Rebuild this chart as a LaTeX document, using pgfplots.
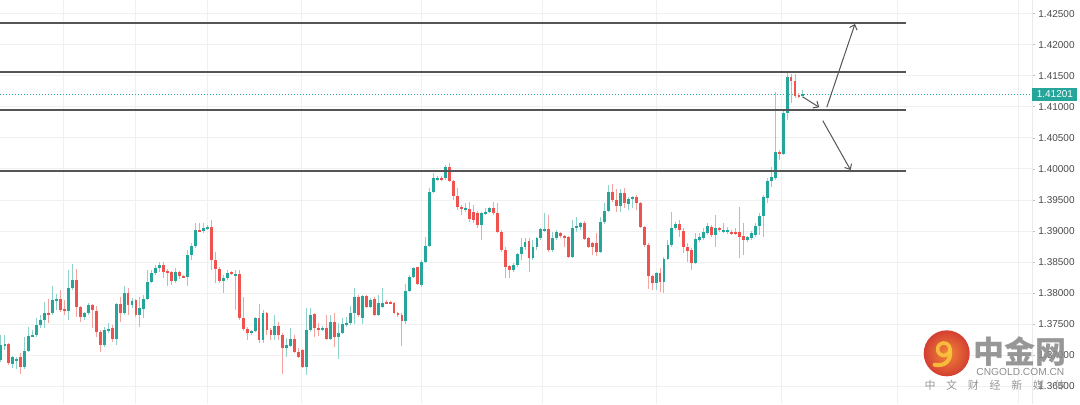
\documentclass[border=0pt]{standalone}
\usepackage{pgfplots}
\pgfplotsset{compat=1.18}
\usepackage{pgfplotstable}
\usepackage{fontspec}
\setmainfont{Liberation Sans}
\newfontfamily\cjk{Noto Sans CJK SC}
\usetikzlibrary{arrows.meta}
\definecolor{cUp}{HTML}{26A69A}
\definecolor{cDn}{HTML}{EF5350}
\definecolor{wUp}{HTML}{8ED2CA}
\definecolor{wDn}{HTML}{F5A3A1}
\definecolor{lineG}{HTML}{555555}
\definecolor{txtG}{HTML}{4A4A4A}
\definecolor{logoO}{HTML}{F07A22}
\definecolor{logoR}{HTML}{CF2A1C}
\definecolor{logoY}{HTML}{F9C53C}

\pgfplotstableread{
i o h l c
0 1.36924 1.37326 1.36892 1.37165
1 1.37149 1.37326 1.37085 1.37182
3 1.36860 1.36988 1.36795 1.36972
4 1.36924 1.36972 1.36779 1.36940
6 1.36811 1.37294 1.36779 1.37069
7 1.37069 1.37455 1.37053 1.37310
8 1.37310 1.37407 1.37294 1.37326
9 1.37326 1.37600 1.37294 1.37487
10 1.37487 1.37648 1.37439 1.37568
11 1.37568 1.37858 1.37439 1.37681
13 1.37681 1.38115 1.37648 1.37890
14 1.37890 1.37987 1.37729 1.37906
17 1.37713 1.38373 1.37568 1.38083
18 1.38083 1.38470 1.38051 1.38212
21 1.37616 1.37697 1.37568 1.37681
22 1.37681 1.37842 1.37648 1.37809
26 1.37165 1.37455 1.37133 1.37407
27 1.37407 1.37520 1.37359 1.37423
29 1.37262 1.37842 1.37165 1.37826
31 1.37681 1.38115 1.37648 1.38003
33 1.37809 1.37922 1.37761 1.37874
35 1.37648 1.37938 1.37455 1.37761
36 1.37745 1.37971 1.37600 1.37906
37 1.37906 1.38373 1.37890 1.38180
38 1.38180 1.38373 1.38164 1.38325
39 1.38325 1.38453 1.38292 1.38405
40 1.38405 1.38502 1.38341 1.38453
44 1.38196 1.38405 1.38164 1.38341
47 1.38260 1.38695 1.38115 1.38615
48 1.38615 1.38808 1.38534 1.38760
49 1.38760 1.39130 1.38727 1.39017
51 1.39001 1.39130 1.38969 1.39049
52 1.39033 1.39098 1.39017 1.39065
56 1.38196 1.38292 1.38003 1.38244
57 1.38244 1.38373 1.38212 1.38325
59 1.38292 1.38373 1.37729 1.38309
63 1.37359 1.37407 1.37326 1.37391
64 1.37391 1.37610 1.37375 1.37600
66 1.37246 1.37729 1.37198 1.37681
69 1.37326 1.37648 1.37246 1.37471
72 1.37117 1.37278 1.36972 1.37165
73 1.37149 1.37439 1.37133 1.37262
77 1.36811 1.37761 1.36683 1.37407
78 1.37407 1.37761 1.37375 1.37648
81 1.37423 1.37471 1.37391 1.37439
83 1.37262 1.37648 1.37246 1.37536
85 1.37294 1.37520 1.36940 1.37359
86 1.37359 1.37600 1.37340 1.37503
87 1.37503 1.37616 1.37455 1.37520
88 1.37520 1.37793 1.37490 1.37681
89 1.37681 1.38083 1.37503 1.37938
91 1.37600 1.37971 1.37505 1.37954
93 1.37777 1.37922 1.37761 1.37890
95 1.37648 1.37971 1.37635 1.37842
96 1.37777 1.38083 1.37761 1.37842
102 1.37552 1.38148 1.37503 1.38035
103 1.38035 1.38292 1.38019 1.38260
104 1.38260 1.38421 1.38244 1.38405
106 1.38131 1.38534 1.38099 1.38502
107 1.38502 1.38904 1.38486 1.38760
108 1.38760 1.39693 1.38743 1.39629
109 1.39629 1.39935 1.39613 1.39854
110 1.39838 1.39886 1.39806 1.39854
112 1.39854 1.40064 1.39822 1.40031
117 1.39355 1.39452 1.39307 1.39371
121 1.39098 1.39307 1.38856 1.39291
122 1.39291 1.39371 1.39258 1.39307
123 1.39307 1.39387 1.39291 1.39371
129 1.38373 1.38486 1.38341 1.38453
130 1.38453 1.38647 1.38421 1.38631
131 1.38631 1.38888 1.38534 1.38743
132 1.38743 1.38888 1.38695 1.38824
134 1.38566 1.38856 1.38534 1.38743
135 1.38743 1.38904 1.38695 1.38888
136 1.38888 1.39049 1.38856 1.39033
137 1.39017 1.39291 1.38985 1.39033
139 1.38695 1.38985 1.38663 1.38888
140 1.38888 1.39017 1.38856 1.38985
144 1.38582 1.39178 1.38566 1.39049
145 1.39049 1.39226 1.38985 1.39081
146 1.39065 1.39146 1.39017 1.39130
151 1.38663 1.39226 1.38647 1.39146
152 1.39146 1.39452 1.39114 1.39323
153 1.39323 1.39742 1.39307 1.39629
156 1.39403 1.39677 1.39307 1.39613
158 1.39436 1.39548 1.39339 1.39516
159 1.39516 1.39564 1.39371 1.39548
165 1.38164 1.38341 1.38051 1.38325
167 1.38180 1.38582 1.38003 1.38550
168 1.38550 1.38856 1.38534 1.38776
169 1.38776 1.39307 1.38743 1.39049
170 1.39049 1.39146 1.39017 1.39114
175 1.38486 1.38969 1.38470 1.38872
176 1.38856 1.38969 1.38824 1.38904
177 1.38888 1.39049 1.38856 1.38985
178 1.38969 1.39130 1.38936 1.39081
180 1.38936 1.39258 1.38743 1.39049
182 1.39001 1.39130 1.38969 1.39017
183 1.38985 1.39065 1.38953 1.39017
188 1.38856 1.38920 1.38824 1.38904
189 1.38888 1.39001 1.38856 1.38969
190 1.38936 1.39130 1.38904 1.39081
191 1.39081 1.39291 1.38936 1.39242
192 1.39242 1.39580 1.38904 1.39548
193 1.39532 1.39854 1.39452 1.39806
194 1.39806 1.40031 1.39709 1.39870
195 1.39854 1.41239 1.39822 1.40273
197 1.40241 1.40965 1.40225 1.40901
198 1.40901 1.41561 1.40788 1.41480
202 1.41174 1.41271 1.41142 1.41201
}\tabUp

\pgfplotstableread{
i o h l c
2 1.37182 1.37198 1.36843 1.36876
5 1.36972 1.37037 1.36699 1.36811
12 1.37681 1.37906 1.37520 1.37665
15 1.37906 1.38051 1.37697 1.37729
16 1.37745 1.37890 1.37648 1.37713
19 1.38212 1.38389 1.37616 1.37777
20 1.37777 1.37790 1.37536 1.37616
23 1.37809 1.37826 1.37439 1.37729
24 1.37713 1.37793 1.37294 1.37375
25 1.37375 1.37407 1.37053 1.37165
28 1.37439 1.37487 1.37214 1.37262
30 1.37826 1.37938 1.37536 1.37681
32 1.38003 1.38083 1.37648 1.37809
34 1.37890 1.37900 1.37616 1.37648
41 1.38453 1.38502 1.38244 1.38341
42 1.38357 1.38389 1.38115 1.38325
43 1.38341 1.38350 1.38131 1.38196
45 1.38341 1.38357 1.38228 1.38276
46 1.38276 1.38292 1.38244 1.38260
50 1.39017 1.39130 1.38985 1.39001
53 1.39065 1.39178 1.38373 1.38534
54 1.38534 1.38663 1.38164 1.38389
55 1.38389 1.38421 1.38164 1.38196
58 1.38341 1.38357 1.38292 1.38309
60 1.38309 1.38373 1.37568 1.37600
61 1.37600 1.37938 1.37391 1.37423
62 1.37423 1.37455 1.37246 1.37359
65 1.37600 1.37826 1.37198 1.37246
67 1.37681 1.37697 1.37326 1.37407
68 1.37407 1.37439 1.37246 1.37326
70 1.37471 1.37536 1.37246 1.37326
71 1.37326 1.37359 1.36699 1.37117
74 1.37262 1.37326 1.37037 1.37053
75 1.37053 1.37117 1.36960 1.36972
76 1.37085 1.37101 1.36795 1.36811
79 1.37665 1.37681 1.37294 1.37439
80 1.37439 1.37520 1.37310 1.37407
82 1.37439 1.37648 1.37246 1.37262
84 1.37536 1.37681 1.37133 1.37294
90 1.37938 1.37971 1.37616 1.37648
92 1.37954 1.37971 1.37761 1.37777
94 1.37906 1.37938 1.37632 1.37648
97 1.37858 1.37890 1.37826 1.37842
98 1.37858 1.37880 1.37826 1.37842
99 1.37842 1.37858 1.37665 1.37681
100 1.37681 1.37697 1.37616 1.37648
101 1.37648 1.37681 1.37149 1.37552
105 1.38421 1.38430 1.38131 1.38148
111 1.39854 1.39886 1.39806 1.39838
113 1.40031 1.40096 1.39790 1.39806
114 1.39806 1.39822 1.39500 1.39564
115 1.39564 1.39693 1.39339 1.39387
116 1.39387 1.39420 1.39258 1.39371
118 1.39355 1.39468 1.39146 1.39194
119 1.39307 1.39420 1.39130 1.39178
120 1.39291 1.39320 1.39049 1.39098
124 1.39371 1.39468 1.39258 1.39291
125 1.39291 1.39452 1.38969 1.38985
126 1.38985 1.39017 1.38663 1.38695
127 1.38695 1.38743 1.38244 1.38421
128 1.38437 1.38453 1.38244 1.38373
133 1.38840 1.38888 1.38341 1.38566
138 1.39033 1.39258 1.38663 1.38695
141 1.38969 1.38985 1.38888 1.38920
142 1.38920 1.38936 1.38743 1.38888
143 1.38904 1.38915 1.38566 1.38582
147 1.39130 1.39162 1.38856 1.38872
148 1.38888 1.38904 1.38727 1.38743
149 1.38808 1.38824 1.38615 1.38743
150 1.38808 1.38969 1.38598 1.38663
154 1.39629 1.39758 1.39468 1.39500
155 1.39500 1.39677 1.39307 1.39403
157 1.39613 1.39693 1.39371 1.39452
160 1.39548 1.39580 1.39339 1.39452
161 1.39452 1.39468 1.39049 1.39065
162 1.39065 1.39081 1.38743 1.38776
163 1.38776 1.38808 1.38067 1.38276
164 1.38276 1.38292 1.38051 1.38164
166 1.38325 1.38405 1.38019 1.38180
171 1.39114 1.39178 1.38904 1.39017
172 1.39001 1.39049 1.38647 1.38743
173 1.38743 1.38808 1.38502 1.38679
174 1.38695 1.38727 1.38373 1.38486
179 1.39065 1.39098 1.38904 1.38936
181 1.39049 1.39065 1.38985 1.39017
184 1.38985 1.39017 1.38936 1.38969
185 1.38985 1.39049 1.38936 1.38969
186 1.38985 1.39387 1.38566 1.38904
187 1.38920 1.39130 1.38615 1.38856
196 1.40273 1.40305 1.40144 1.40241
199 1.41480 1.41529 1.41062 1.41416
200 1.41416 1.41529 1.41142 1.41174
201 1.41191 1.41223 1.41142 1.41158
}\tabDn

\pgfplotsset{candle/.style={only marks, mark=*, mark size=0pt,
  mark options={draw=none, fill=none}, forget plot,
  error bars/.cd, y dir=both, y explicit, error mark=none}}

\begin{document}
\begin{tikzpicture}
\path[use as bounding box] (0pt,0pt) rectangle (540pt,202pt);
\begin{axis}[
  at={(0pt,0pt)}, anchor=south west,
  scale only axis, width=516pt, height=202pt,
  xmin=-0.25, xmax=259.7, ymin=1.36216, ymax=1.4272,
  clip=false,
  axis line style={draw=none},
  xtick={15.87,34,51.9,75.8,106,136.3,165.2,196.7,225.9,256.2},
  xticklabels={},
  xtick style={draw=none},
  ytick={1.365,1.370,1.375,1.380,1.385,1.390,1.395,1.400,1.405,1.410,1.415,1.420,1.425},
  yticklabel pos=right,
  ytick align=outside,
  major tick length=1.5pt,
  ytick style={draw=black!25, line width=0.4pt},
  xmajorgrids, ymajorgrids,
  grid style={draw=black!6, line width=0.5pt},
  yticklabel style={font=\fontsize{5}{6}\selectfont, text=txtG, inner sep=0pt, xshift=1.5pt,
    /pgf/number format/fixed, /pgf/number format/fixed zerofill,
    /pgf/number format/precision=5, /pgf/number format/assume math mode=true},
]
% current price dotted line
\addplot[cUp, line width=0.4pt, dash pattern=on 0.5pt off 1pt, forget plot] coordinates {(-0.25,1.41201) (259.7,1.41201)};
% wicks
\addplot[candle, error bar style={draw=wUp, line width=0.5pt}]
  table[x=i, y expr={(\thisrow{h}+\thisrow{l})/2}, y error expr={(\thisrow{h}-\thisrow{l})/2}] {\tabUp};
\addplot[candle, error bar style={draw=wDn, line width=0.5pt}]
  table[x=i, y expr={(\thisrow{h}+\thisrow{l})/2}, y error expr={(\thisrow{h}-\thisrow{l})/2}] {\tabDn};
% bodies
\addplot[candle, error bar style={draw=cUp, line width=1.45pt}]
  table[x=i, y expr={(\thisrow{o}+\thisrow{c})/2}, y error expr={abs(\thisrow{c}-\thisrow{o})/2}] {\tabUp};
\addplot[candle, error bar style={draw=cDn, line width=1.45pt}]
  table[x=i, y expr={(\thisrow{o}+\thisrow{c})/2}, y error expr={abs(\thisrow{o}-\thisrow{c})/2}] {\tabDn};
% horizontal levels
\addplot[lineG, line width=0.6pt, forget plot] coordinates {(-0.25,1.42350) (228,1.42350)};
\addplot[lineG, line width=0.6pt, forget plot] coordinates {(-0.25,1.41561) (228,1.41561)};
\addplot[lineG, line width=0.6pt, forget plot] coordinates {(-0.25,1.40949) (228,1.40949)};
\addplot[lineG, line width=0.7pt, forget plot] coordinates {(-0.25,1.39967) (228,1.39967)};
% arrows
\draw[lineG, line width=0.5pt, -{Straight Barb[length=2.2pt,width=4pt]}] (axis cs:202,1.41158) -- (axis cs:206.1,1.40993);
\draw[lineG, line width=0.5pt, -{Straight Barb[length=2.2pt,width=4pt]}] (axis cs:208,1.40993) -- (axis cs:215.1,1.42334);
\draw[lineG, line width=0.5pt, -{Straight Barb[length=2.2pt,width=4pt]}] (axis cs:207,1.40777) -- (axis cs:214,1.39983);
% right border
\draw[black!8, line width=0.5pt] (rel axis cs:1,0) -- (rel axis cs:1,1);
% price label
\node[fill=cUp, text=white, font=\fontsize{5}{6}\selectfont, inner sep=0pt,
  minimum width=22.5pt, minimum height=6.5pt, anchor=west] at (axis cs:259.7,1.41201) {1.41201};
\end{axis}
% watermark
\begin{scope}[opacity=0.9]
\shade[inner color=logoO, outer color=logoR] (473.35pt,25.35pt) circle (11.5pt);
\draw[logoY, line width=1.8pt] (471.9pt,27.4pt) circle (3.1pt);
\draw[logoY, line width=2pt, line cap=round] (475.1pt,27pt) .. controls (475.6pt,21pt) and (472pt,18.8pt) .. (467.3pt,19.6pt);
\node[font=\cjk\bfseries\fontsize{15.5}{16}\selectfont, text=black!45] at (510pt,26.4pt) {中金网};
\node[font=\fontsize{5.1}{6}\selectfont, text=black!50] at (510.2pt,15.8pt) {CNGOLD.COM.CN};
\foreach \ch [count=\k from 0] in {中,文,财,经,新,媒,体} {
  \node[font=\cjk\fontsize{5.5}{6}\selectfont, text=black!45] at ({465pt+10.85pt*\k},9.3pt) {\ch};
}
\end{scope}
\end{tikzpicture}
\end{document}
